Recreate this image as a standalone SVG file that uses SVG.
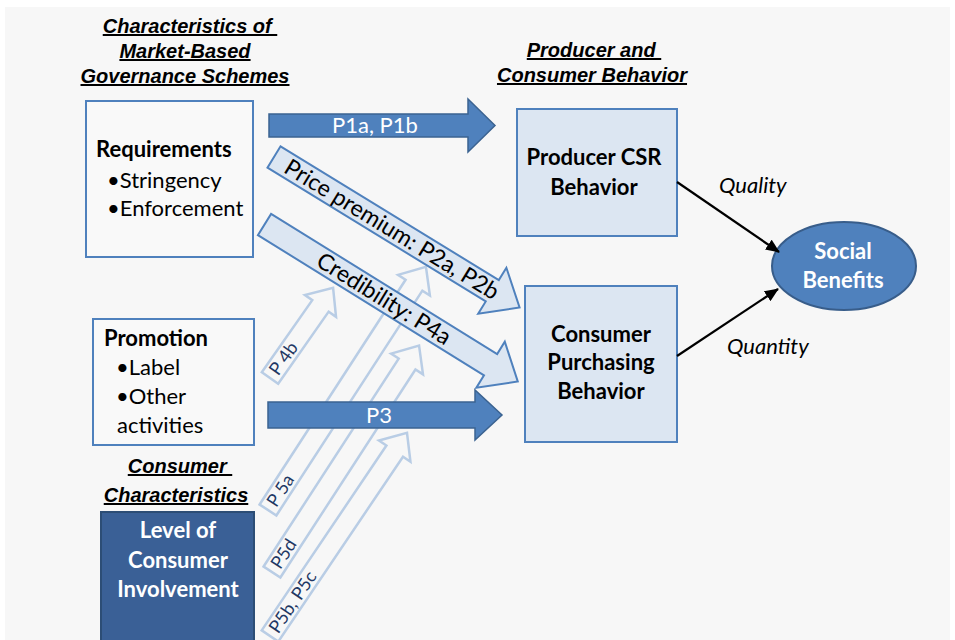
<svg xmlns="http://www.w3.org/2000/svg" width="955" height="640" viewBox="0 0 955 640">
  <style>
    text { font-family: Lato, "Liberation Sans", "DejaVu Sans", sans-serif; }
    .head { font-family: "Liberation Sans", Arial, sans-serif; font-size: 20px; font-weight: bold; font-style: italic; text-decoration: underline; fill: #000; text-anchor: middle; }
    .box { fill: #f9f9f9; stroke: #4f81bd; stroke-width: 2; }
    .lbox { fill: #dce6f2; stroke: #4f81bd; stroke-width: 2; }
    .bold { font-size: 22px; font-weight: bold; fill: #000; }
    .item { font-size: 22px; fill: #000; }
    .ctr { text-anchor: middle; }
    .white { fill: #fff; }
    .darrow { fill: #4f81bd; stroke: #3b6391; stroke-width: 1.5; }
    .larrow { fill: #dce6f2; stroke: #4f81bd; stroke-width: 2; }
    .oarrow { fill: none; stroke: #b9cde5; stroke-width: 2.5; }
    .olabel { font-size: 18px; fill: #1f3864; }
    .clabel { font-size: 23px; fill: #000; }
    .link { stroke: #000; stroke-width: 2.2; fill: none; marker-end: url(#tip); }
    .ital { font-size: 22px; font-style: italic; fill: #000; }
  </style>
  <defs>
    <marker id="tip" markerWidth="14" markerHeight="12" refX="13" refY="6" orient="auto" markerUnits="userSpaceOnUse">
      <path d="M0,0 L14,6 L0,12 Z" fill="#000"/>
    </marker>
  </defs>

  <!-- page background -->
  <rect x="0" y="0" width="955" height="640" fill="#ffffff"/>
  <rect x="5" y="7" width="945" height="633" fill="#f7f7f7"/>

  <!-- column headings -->
  <g id="heading-schemes">
    <text class="head" x="190" y="33">Characteristics of&#160;</text>
    <text class="head" x="185" y="58">Market-Based</text>
    <text class="head" x="185" y="83">Governance Schemes</text>
  </g>
  <g id="heading-behavior">
    <text class="head" x="594" y="57">Producer and&#160;</text>
    <text class="head" x="592" y="82">Consumer Behavior</text>
  </g>
  <g id="heading-consumer">
    <text class="head" x="180" y="473">Consumer&#160;</text>
    <text class="head" x="176" y="502">Characteristics</text>
  </g>

  <!-- nodes -->
  <g id="requirements">
    <rect class="box" x="86" y="101" width="167" height="156"/>
    <text class="bold" x="96" y="157">Requirements</text>
    <text class="item" x="107" y="188">•Stringency</text>
    <text class="item" x="107" y="216">•Enforcement</text>
  </g>

  <g id="promotion">
    <rect class="box" x="93" y="319" width="161" height="126"/>
    <text class="bold" x="104" y="346">Promotion</text>
    <text class="item" x="116" y="375">•Label</text>
    <text class="item" x="116" y="404">•Other</text>
    <text class="item" x="117" y="433">activities</text>
  </g>

  <g id="involvement">
    <rect x="101" y="512" width="153" height="132" fill="#3a6096" stroke="#2c4d75" stroke-width="2"/>
    <text class="bold white ctr" x="178" y="538">Level of</text>
    <text class="bold white ctr" x="178" y="568">Consumer</text>
    <text class="bold white ctr" x="178" y="597">Involvement</text>
  </g>

  <g id="producer-csr">
    <rect class="lbox" x="517" y="109" width="160" height="127"/>
    <text class="bold ctr" x="594" y="165">Producer CSR</text>
    <text class="bold ctr" x="594" y="195">Behavior</text>
  </g>

  <g id="consumer-purchasing">
    <rect class="lbox" x="525" y="286" width="152" height="156"/>
    <text class="bold ctr" x="601" y="342">Consumer</text>
    <text class="bold ctr" x="601" y="370">Purchasing</text>
    <text class="bold ctr" x="601" y="399">Behavior</text>
  </g>

  <g id="social-benefits">
    <ellipse cx="844" cy="266" rx="72" ry="44" fill="#4f81bd" stroke="#385d8a" stroke-width="2"/>
    <text class="bold white ctr" x="843" y="259">Social</text>
    <text class="bold white ctr" x="843" y="288">Benefits</text>
  </g>

  <!-- connectors -->
  <g id="connectors">
    <!-- outlined arrows from consumer involvement / promotion -->
    <g transform="translate(270,378) rotate(-55)">
      <path class="oarrow" d="M0,-10 L88,-10 L88,-19 L110,0 L88,19 L88,10 L0,10 Z"/>
      <text class="olabel" x="6" y="6">P 4b</text>
    </g>
    <g transform="translate(268,510) rotate(-57)">
      <path class="oarrow" d="M0,-10 L268,-10 L268,-19 L290,0 L268,19 L268,10 L0,10 Z"/>
      <text class="olabel" x="6" y="6">P 5a</text>
    </g>
    <g transform="translate(272,572) rotate(-57)">
      <path class="oarrow" d="M0,-10 L248,-10 L248,-19 L270,0 L248,19 L248,10 L0,10 Z"/>
      <text class="olabel" x="6" y="6">P5d</text>
    </g>
    <g transform="translate(270,636) rotate(-56)">
      <path class="oarrow" d="M0,-10 L223,-10 L223,-19 L245,0 L223,19 L223,10 L0,10 Z"/>
      <text class="olabel" x="6" y="6">P5b, P5c</text>
    </g>

    <!-- price premium and credibility arrows -->
    <g transform="translate(274,157) rotate(31.5)">
      <path class="larrow" d="M0,-12.5 L256,-12.5 L256,-27 L288,0 L256,27 L256,12.5 L0,12.5 Z"/>
      <text class="clabel" x="15" y="8">Price premium: P2a, P2b</text>
    </g>
    <g transform="translate(264.5,224.5) rotate(31.8)">
      <path class="larrow" d="M0,-12.5 L266,-12.5 L266,-27 L298,0 L266,27 L266,12.5 L0,12.5 Z"/>
      <text class="clabel" x="64" y="8">Credibility: P4a</text>
    </g>

    <!-- solid arrows -->
    <g id="arrow-p1">
      <path class="darrow" d="M269,114 H468 V99 L495,125.5 L468,152 V137 H269 Z"/>
      <text class="item white ctr" x="375" y="133">P1a, P1b</text>
    </g>
    <g id="arrow-p3">
      <path class="darrow" d="M268,402 H475 V390 L502,415 L475,440 V428 H268 Z"/>
      <text class="item white ctr" x="379" y="423">P3</text>
    </g>

    <!-- links to social benefits -->
    <line class="link" x1="677" y1="182" x2="779" y2="252"/>
    <line class="link" x1="677" y1="356" x2="778" y2="289"/>
    <text class="ital" x="719" y="193">Quality</text>
    <text class="ital" x="727" y="354">Quantity</text>
  </g>
</svg>
